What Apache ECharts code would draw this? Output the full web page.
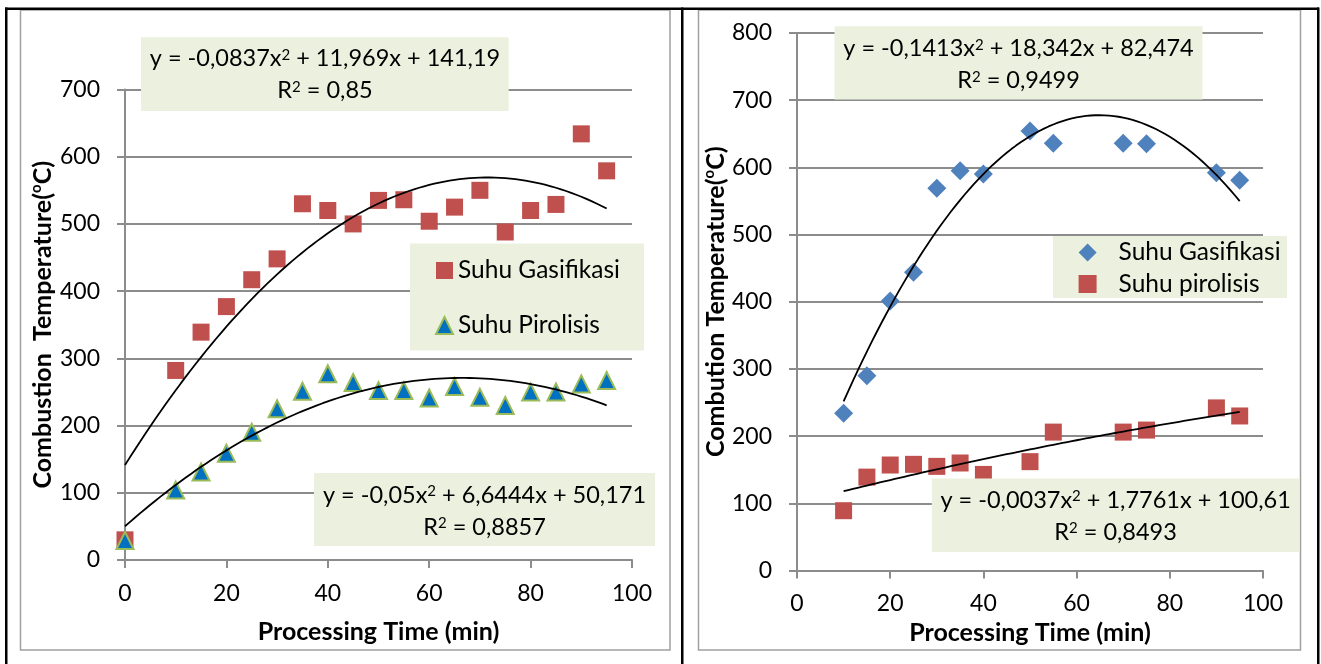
<!DOCTYPE html>
<html>
<head>
<meta charset="utf-8">
<script src="https://cdn.jsdelivr.net/npm/echarts@6/dist/echarts.min.js"></script>
<style>
html,body{margin:0;padding:0;background:#fff;}
#chart{width:1321px;height:664px;}
</style>
</head>
<body>
<div id="chart"></div>
<script>
// ---------- data ----------
const timeLeft = [0,10,15,20,25,30,35,40,45,50,55,60,65,70,75,80,85,90,95];
const gasLeft  = [30,282,339,377,417,448,530,520,500,535,536,504,525,550,488,520,529,634,579];
const pirLeft  = [29,104,131,159,190,225,251,277,264,252,252,241,258,242,230,250,250,262,267];

const timeRight = [10,15,20,25,30,35,40,50,55,70,75,90,95];
const gasRight  = [234,290,401,444,569,595,590,654,636,636,635,592,581];
const pirRight  = [89,139,157,158,155,160,143,162,206,206,209,242,230];

// trendline coefficients [a, b, c] for y = a x^2 + b x + c, as printed on the chart
const fitGasLeft  = [-0.0837, 11.969, 141.19];
const fitPirLeft  = [-0.05, 6.6444, 50.171];
const fitGasRight = [-0.1413, 18.342, 82.474];
const fitPirRight = [-0.0037, 1.7761, 100.61];

const eqGasLeft  = ['y = -0,0837x² + 11,969x + 141,19', 'R² = 0,85'];
const eqPirLeft  = ['y = -0,05x² + 6,6444x + 50,171', 'R² = 0,8857'];
const eqGasRight = ['y = -0,1413x² + 18,342x + 82,474', 'R² = 0,9499'];
const eqPirRight = ['y = -0,0037x² + 1,7761x + 100,61', 'R² = 0,8493'];

const xTitle = 'Processing Time (min)';
const yTitleLeft = ['Combustion  Temperature(', 'o', 'C)'];
const yTitleRight = ['Combution Temperature(', 'o', 'C)'];

const legendLeft = ['Suhu Gasifikasi', 'Suhu Pirolisis'];
const legendRight = ['Suhu Gasifikasi ', 'Suhu pirolisis'];

// ---------- helpers ----------
const FONT = 'Lato, "Open Sans", sans-serif';
const GRID_C = '#8c8c8c';
const BOX_C = '#EBF1DE';
const pairs = (xs, ys) => xs.map((x, i) => [x, ys[i]]);
const trend = (c, x0, x1) => {
  const out = [];
  for (let x = x0; x <= x1; x += 1) out.push([x, c[0]*x*x + c[1]*x + c[2]]);
  return out;
};
// turn "x²" into a rich-text superscript
const sup = s => s.split('²').map(p => '{n|' + p + '}').join('{s|2}');

function xAx(g, gap) {
  return {
    type: 'value', gridIndex: g, min: 0, max: 100, interval: 20,
    axisLine: {show: true, lineStyle: {color: GRID_C, width: 2}},
    axisTick: {show: true, length: 8, lineStyle: {color: GRID_C, width: 2}},
    splitLine: {show: false},
    axisLabel: {color: '#000', fontFamily: FONT, fontSize: 23, margin: 22},
    name: xTitle, nameLocation: 'middle', nameGap: gap,
    nameTextStyle: {color: '#000', fontFamily: FONT, fontSize: 25, fontWeight: 'bold'}
  };
}
function yAx(g, max, title, gap) {
  return {
    type: 'value', gridIndex: g, min: 0, max: max, interval: 100,
    axisLine: {show: true, lineStyle: {color: GRID_C, width: 2}},
    axisTick: {show: true, length: 8, lineStyle: {color: GRID_C, width: 2}},
    splitLine: {show: true, lineStyle: {color: GRID_C, width: 2}},
    axisLabel: {color: '#000', fontFamily: FONT, fontSize: 23, margin: 25},
    name: '{t|' + title[0] + '}{s|' + title[1] + '}{t|' + title[2] + '}',
    nameLocation: 'middle', nameGap: gap, nameRotate: 90,
    nameTextStyle: {
      rich: {
        t: {color: '#000', fontFamily: FONT, fontSize: 25, fontWeight: 'bold', lineHeight: 27},
        s: {color: '#000', fontFamily: FONT, fontSize: 15, fontWeight: 'bold', verticalAlign: 'top', lineHeight: 27}
      }
    }
  };
}
function eqBox(x, y, w, h, lines, cx, cy) {
  return [
    {type: 'rect', z: 20, shape: {x: x, y: y, width: w, height: h}, style: {fill: BOX_C}},
    {type: 'text', z: 21, x: cx, y: cy,
     style: {
       text: lines.map(sup).join('\n'), align: 'center', verticalAlign: 'middle',
       rich: {
         n: {fill: '#000', fontFamily: FONT, fontSize: 23.5, lineHeight: 32},
         s: {fill: '#000', fontFamily: FONT, fontSize: 15, lineHeight: 32, verticalAlign: 'top', padding: [5, 0, 0, 0]}
       }
     }}
  ];
}

const chart = echarts.init(document.getElementById('chart'), null, {renderer: 'canvas'});

const option = {
  backgroundColor: '#fff',
  animation: false,
  grid: [
    {left: 125, top: 89.5, width: 507, height: 470.5},
    {left: 797, top: 33, width: 466, height: 537.5}
  ],
  xAxis: [xAx(0, 59), xAx(1, 49)],
  yAxis: [yAx(0, 700, yTitleLeft, 69), yAx(1, 800, yTitleRight, 64)],
  legend: [
    {
      orient: 'vertical', left: 435, top: 258, padding: 0, itemGap: 30,
      itemWidth: 17, itemHeight: 17, z: 10,
      textStyle: {color: '#000', fontFamily: FONT, fontSize: 24.5, lineHeight: 24},
      data: [
        {name: legendLeft[0], icon: 'rect'},
        {name: legendLeft[1], icon: 'triangle'}
      ],
      selectedMode: false
    },
    {
      orient: 'vertical', left: 1078.6, top: 240, padding: 0, itemGap: 6.5,
      itemWidth: 18, itemHeight: 18, z: 10,
      formatter: n => n.trim(),
      textStyle: {color: '#000', fontFamily: FONT, fontSize: 24.5, lineHeight: 24, padding: [0, 0, 0, 17]},
      data: [
        {name: legendRight[0], icon: 'diamond'},
        {name: legendRight[1], icon: 'rect'}
      ],
      selectedMode: false
    }
  ],
  series: [
    {name: legendLeft[0], type: 'scatter', xAxisIndex: 0, yAxisIndex: 0, symbol: 'rect', symbolSize: 17,
     itemStyle: {color: '#C0504D', opacity: 1}, data: pairs(timeLeft, gasLeft), z: 2},
    {name: legendLeft[1], type: 'scatter', xAxisIndex: 0, yAxisIndex: 0, symbol: 'triangle', symbolSize: 17,
     itemStyle: {color: '#0070C0', borderColor: '#9BBB59', borderWidth: 2, opacity: 1}, data: pairs(timeLeft, pirLeft), z: 2},
    {type: 'line', xAxisIndex: 0, yAxisIndex: 0, showSymbol: false, silent: true, z: 3,
     lineStyle: {color: '#000', width: 1.8}, data: trend(fitGasLeft, 0, 95)},
    {type: 'line', xAxisIndex: 0, yAxisIndex: 0, showSymbol: false, silent: true, z: 3,
     lineStyle: {color: '#000', width: 1.8}, data: trend(fitPirLeft, 0, 95)},

    {name: legendRight[0], type: 'scatter', xAxisIndex: 1, yAxisIndex: 1, symbol: 'diamond', symbolSize: 19,
     itemStyle: {color: '#4F81BD', opacity: 1}, data: pairs(timeRight, gasRight), z: 2},
    {name: legendRight[1], type: 'scatter', xAxisIndex: 1, yAxisIndex: 1, symbol: 'rect', symbolSize: 17,
     itemStyle: {color: '#C0504D', opacity: 1}, data: pairs(timeRight, pirRight), z: 2},
    {type: 'line', xAxisIndex: 1, yAxisIndex: 1, showSymbol: false, silent: true, z: 3,
     lineStyle: {color: '#000', width: 1.8}, data: trend(fitGasRight, 10, 95)},
    {type: 'line', xAxisIndex: 1, yAxisIndex: 1, showSymbol: false, silent: true, z: 3,
     lineStyle: {color: '#000', width: 1.8}, data: trend(fitPirRight, 10, 95)}
  ],
  graphic: {
    elements: [
      // chart-area frames
      {type: 'rect', z: 0, shape: {x: 20.5, y: 10, width: 649.5, height: 640}, style: {fill: null, stroke: '#a0a0a0', lineWidth: 1.5}},
      {type: 'rect', z: 0, shape: {x: 698.5, y: 10, width: 602, height: 640}, style: {fill: null, stroke: '#a0a0a0', lineWidth: 1.5}},
      // table borders
      {type: 'rect', z: 30, shape: {x: 5, y: 7.5, width: 1314, height: 2.5}, style: {fill: '#000'}},
      {type: 'rect', z: 30, shape: {x: 5, y: 7.5, width: 2.5, height: 660}, style: {fill: '#000'}},
      {type: 'rect', z: 30, shape: {x: 681, y: 7.5, width: 2.5, height: 660}, style: {fill: '#000'}},
      {type: 'rect', z: 30, shape: {x: 1317, y: 7.5, width: 2.5, height: 660}, style: {fill: '#000'}},
      // legend boxes
      {type: 'rect', z: 5, shape: {x: 410, y: 243.5, width: 234, height: 107}, style: {fill: BOX_C}},
      {type: 'rect', z: 5, shape: {x: 1053, y: 236, width: 234, height: 62}, style: {fill: BOX_C}},
      // equation boxes
      ...eqBox(141, 37.3, 367.7, 73.7, eqGasLeft, 325, 74.8),
      ...eqBox(314, 473, 341, 73, eqPirLeft, 484.5, 511),
      ...eqBox(834.5, 26.3, 368, 73.2, eqGasRight, 1018.5, 64.2),
      ...eqBox(931.8, 478.6, 367.6, 73.4, eqPirRight, 1115.6, 516)
    ]
  }
};
chart.setOption(option);
</script>
</body>
</html>
